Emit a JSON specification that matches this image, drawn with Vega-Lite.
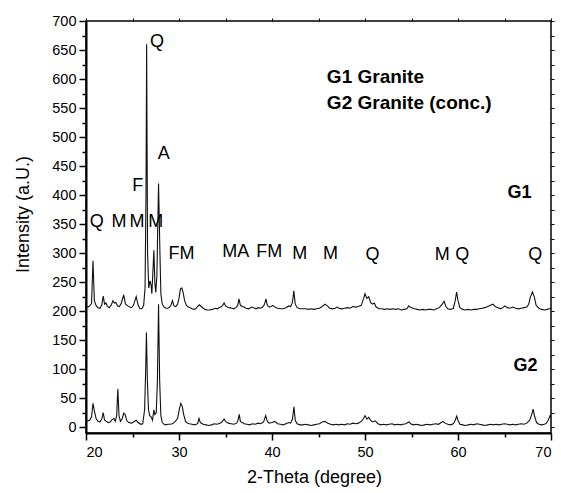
{
  "$schema": "https://vega.github.io/schema/vega-lite/v6.json",
  "autosize": "none",
  "padding": {"left": 86, "top": 21, "right": 10, "bottom": 60},
  "width": 465,
  "height": 412,
  "background": "white",
  "config": {
    "view": {"stroke": "black", "strokeWidth": 1.5},
    "font": "Liberation Sans",
    "axis": {"grid": false, "domainColor": "black", "tickColor": "black", "labelColor": "black", "titleColor": "black", "labelFont": "Liberation Sans", "titleFont": "Liberation Sans", "titleFontWeight": "normal"}
  },
  "datasets": {
    "xrd": [
      {"s":"G1","x":20.0,"y":208},{"s":"G1","x":20.2,"y":207},{"s":"G1","x":20.4,"y":209},{"s":"G1","x":20.6,"y":213},{"s":"G1","x":20.75,"y":287},{"s":"G1","x":20.9,"y":218},{"s":"G1","x":21.1,"y":209},{"s":"G1","x":21.3,"y":206},{"s":"G1","x":21.5,"y":205},{"s":"G1","x":21.7,"y":211},{"s":"G1","x":21.85,"y":226},{"s":"G1","x":22.0,"y":212},{"s":"G1","x":22.15,"y":214},{"s":"G1","x":22.3,"y":208},{"s":"G1","x":22.5,"y":206},{"s":"G1","x":22.7,"y":210},{"s":"G1","x":22.9,"y":218},{"s":"G1","x":23.05,"y":214},{"s":"G1","x":23.2,"y":215},{"s":"G1","x":23.4,"y":209},{"s":"G1","x":23.6,"y":208},{"s":"G1","x":23.8,"y":214},{"s":"G1","x":24.05,"y":228},{"s":"G1","x":24.25,"y":212},{"s":"G1","x":24.5,"y":209},{"s":"G1","x":24.7,"y":207},{"s":"G1","x":24.9,"y":206},{"s":"G1","x":25.1,"y":210},{"s":"G1","x":25.4,"y":225},{"s":"G1","x":25.6,"y":211},{"s":"G1","x":25.8,"y":204},{"s":"G1","x":26.0,"y":204},{"s":"G1","x":26.2,"y":210},{"s":"G1","x":26.35,"y":240},{"s":"G1","x":26.45,"y":400},{"s":"G1","x":26.52,"y":660},{"s":"G1","x":26.62,"y":300},{"s":"G1","x":26.75,"y":240},{"s":"G1","x":26.88,"y":252},{"s":"G1","x":27.0,"y":245},{"s":"G1","x":27.08,"y":230},{"s":"G1","x":27.2,"y":270},{"s":"G1","x":27.3,"y":305},{"s":"G1","x":27.4,"y":250},{"s":"G1","x":27.5,"y":232},{"s":"G1","x":27.62,"y":260},{"s":"G1","x":27.8,"y":420},{"s":"G1","x":27.95,"y":300},{"s":"G1","x":28.05,"y":230},{"s":"G1","x":28.2,"y":212},{"s":"G1","x":28.4,"y":207},{"s":"G1","x":28.6,"y":205},{"s":"G1","x":28.8,"y":205},{"s":"G1","x":29.0,"y":207},{"s":"G1","x":29.15,"y":211},{"s":"G1","x":29.3,"y":218},{"s":"G1","x":29.45,"y":209},{"s":"G1","x":29.65,"y":208},{"s":"G1","x":29.85,"y":212},{"s":"G1","x":30.0,"y":222},{"s":"G1","x":30.15,"y":238},{"s":"G1","x":30.3,"y":240},{"s":"G1","x":30.45,"y":232},{"s":"G1","x":30.6,"y":218},{"s":"G1","x":30.8,"y":210},{"s":"G1","x":31.0,"y":207},{"s":"G1","x":31.2,"y":206},{"s":"G1","x":31.4,"y":204},{"s":"G1","x":31.6,"y":203},{"s":"G1","x":31.8,"y":204},{"s":"G1","x":32.0,"y":208},{"s":"G1","x":32.2,"y":211},{"s":"G1","x":32.4,"y":208},{"s":"G1","x":32.6,"y":205},{"s":"G1","x":32.8,"y":203},{"s":"G1","x":33.0,"y":202},{"s":"G1","x":33.3,"y":202},{"s":"G1","x":33.6,"y":203},{"s":"G1","x":33.9,"y":205},{"s":"G1","x":34.1,"y":204},{"s":"G1","x":34.3,"y":206},{"s":"G1","x":34.5,"y":207},{"s":"G1","x":34.7,"y":210},{"s":"G1","x":34.85,"y":214},{"s":"G1","x":35.0,"y":209},{"s":"G1","x":35.2,"y":207},{"s":"G1","x":35.4,"y":206},{"s":"G1","x":35.7,"y":205},{"s":"G1","x":35.9,"y":204},{"s":"G1","x":36.1,"y":206},{"s":"G1","x":36.3,"y":209},{"s":"G1","x":36.45,"y":221},{"s":"G1","x":36.6,"y":210},{"s":"G1","x":36.8,"y":208},{"s":"G1","x":37.0,"y":207},{"s":"G1","x":37.2,"y":205},{"s":"G1","x":37.5,"y":204},{"s":"G1","x":37.8,"y":207},{"s":"G1","x":38.0,"y":206},{"s":"G1","x":38.3,"y":204},{"s":"G1","x":38.5,"y":206},{"s":"G1","x":38.8,"y":205},{"s":"G1","x":39.0,"y":207},{"s":"G1","x":39.2,"y":212},{"s":"G1","x":39.35,"y":221},{"s":"G1","x":39.5,"y":210},{"s":"G1","x":39.7,"y":207},{"s":"G1","x":39.9,"y":208},{"s":"G1","x":40.1,"y":210},{"s":"G1","x":40.3,"y":207},{"s":"G1","x":40.6,"y":205},{"s":"G1","x":40.9,"y":204},{"s":"G1","x":41.2,"y":204},{"s":"G1","x":41.5,"y":206},{"s":"G1","x":41.8,"y":209},{"s":"G1","x":42.0,"y":208},{"s":"G1","x":42.2,"y":215},{"s":"G1","x":42.35,"y":235},{"s":"G1","x":42.5,"y":212},{"s":"G1","x":42.7,"y":206},{"s":"G1","x":43.0,"y":204},{"s":"G1","x":43.3,"y":204},{"s":"G1","x":43.6,"y":204},{"s":"G1","x":43.9,"y":203},{"s":"G1","x":44.2,"y":204},{"s":"G1","x":44.5,"y":203},{"s":"G1","x":44.8,"y":204},{"s":"G1","x":45.1,"y":205},{"s":"G1","x":45.4,"y":208},{"s":"G1","x":45.7,"y":212},{"s":"G1","x":45.95,"y":209},{"s":"G1","x":46.2,"y":205},{"s":"G1","x":46.5,"y":204},{"s":"G1","x":46.8,"y":205},{"s":"G1","x":47.0,"y":207},{"s":"G1","x":47.2,"y":205},{"s":"G1","x":47.5,"y":204},{"s":"G1","x":47.8,"y":205},{"s":"G1","x":48.1,"y":206},{"s":"G1","x":48.4,"y":205},{"s":"G1","x":48.7,"y":208},{"s":"G1","x":49.0,"y":207},{"s":"G1","x":49.3,"y":208},{"s":"G1","x":49.6,"y":210},{"s":"G1","x":49.85,"y":222},{"s":"G1","x":50.0,"y":230},{"s":"G1","x":50.2,"y":222},{"s":"G1","x":50.4,"y":225},{"s":"G1","x":50.6,"y":215},{"s":"G1","x":50.8,"y":212},{"s":"G1","x":51.0,"y":214},{"s":"G1","x":51.2,"y":207},{"s":"G1","x":51.5,"y":204},{"s":"G1","x":51.8,"y":204},{"s":"G1","x":52.1,"y":203},{"s":"G1","x":52.4,"y":204},{"s":"G1","x":52.7,"y":203},{"s":"G1","x":53.0,"y":204},{"s":"G1","x":53.3,"y":203},{"s":"G1","x":53.6,"y":204},{"s":"G1","x":53.9,"y":202},{"s":"G1","x":54.2,"y":203},{"s":"G1","x":54.5,"y":204},{"s":"G1","x":54.7,"y":209},{"s":"G1","x":54.85,"y":207},{"s":"G1","x":55.0,"y":206},{"s":"G1","x":55.3,"y":204},{"s":"G1","x":55.6,"y":203},{"s":"G1","x":55.9,"y":202},{"s":"G1","x":56.2,"y":203},{"s":"G1","x":56.5,"y":202},{"s":"G1","x":56.8,"y":203},{"s":"G1","x":57.1,"y":203},{"s":"G1","x":57.4,"y":202},{"s":"G1","x":57.7,"y":204},{"s":"G1","x":58.0,"y":206},{"s":"G1","x":58.3,"y":212},{"s":"G1","x":58.5,"y":217},{"s":"G1","x":58.7,"y":208},{"s":"G1","x":58.9,"y":204},{"s":"G1","x":59.2,"y":203},{"s":"G1","x":59.5,"y":205},{"s":"G1","x":59.7,"y":218},{"s":"G1","x":59.85,"y":233},{"s":"G1","x":60.0,"y":218},{"s":"G1","x":60.2,"y":206},{"s":"G1","x":60.5,"y":203},{"s":"G1","x":60.8,"y":202},{"s":"G1","x":61.1,"y":203},{"s":"G1","x":61.4,"y":202},{"s":"G1","x":61.7,"y":203},{"s":"G1","x":62.0,"y":203},{"s":"G1","x":62.3,"y":204},{"s":"G1","x":62.6,"y":205},{"s":"G1","x":62.9,"y":206},{"s":"G1","x":63.2,"y":208},{"s":"G1","x":63.5,"y":210},{"s":"G1","x":63.75,"y":212},{"s":"G1","x":64.0,"y":208},{"s":"G1","x":64.3,"y":206},{"s":"G1","x":64.6,"y":204},{"s":"G1","x":64.8,"y":206},{"s":"G1","x":65.05,"y":209},{"s":"G1","x":65.3,"y":206},{"s":"G1","x":65.6,"y":205},{"s":"G1","x":65.9,"y":207},{"s":"G1","x":66.2,"y":205},{"s":"G1","x":66.5,"y":204},{"s":"G1","x":66.8,"y":205},{"s":"G1","x":67.1,"y":206},{"s":"G1","x":67.4,"y":207},{"s":"G1","x":67.6,"y":212},{"s":"G1","x":67.8,"y":225},{"s":"G1","x":68.0,"y":233},{"s":"G1","x":68.2,"y":225},{"s":"G1","x":68.4,"y":210},{"s":"G1","x":68.7,"y":205},{"s":"G1","x":69.0,"y":203},{"s":"G1","x":69.3,"y":202},{"s":"G1","x":69.6,"y":203},{"s":"G1","x":69.8,"y":204},{"s":"G1","x":70.0,"y":205},
      {"s":"G2","x":20.0,"y":12},{"s":"G2","x":20.2,"y":11},{"s":"G2","x":20.4,"y":12},{"s":"G2","x":20.6,"y":18},{"s":"G2","x":20.75,"y":41},{"s":"G2","x":20.9,"y":28},{"s":"G2","x":21.1,"y":14},{"s":"G2","x":21.3,"y":10},{"s":"G2","x":21.5,"y":9},{"s":"G2","x":21.7,"y":14},{"s":"G2","x":21.85,"y":25},{"s":"G2","x":22.0,"y":12},{"s":"G2","x":22.2,"y":10},{"s":"G2","x":22.4,"y":8},{"s":"G2","x":22.6,"y":9},{"s":"G2","x":22.8,"y":13},{"s":"G2","x":23.0,"y":15},{"s":"G2","x":23.15,"y":10},{"s":"G2","x":23.3,"y":20},{"s":"G2","x":23.42,"y":66},{"s":"G2","x":23.55,"y":20},{"s":"G2","x":23.7,"y":10},{"s":"G2","x":23.9,"y":15},{"s":"G2","x":24.05,"y":24},{"s":"G2","x":24.2,"y":22},{"s":"G2","x":24.4,"y":11},{"s":"G2","x":24.6,"y":8},{"s":"G2","x":24.9,"y":7},{"s":"G2","x":25.1,"y":9},{"s":"G2","x":25.4,"y":12},{"s":"G2","x":25.6,"y":8},{"s":"G2","x":25.9,"y":5},{"s":"G2","x":26.1,"y":6},{"s":"G2","x":26.3,"y":30},{"s":"G2","x":26.42,"y":100},{"s":"G2","x":26.5,"y":163},{"s":"G2","x":26.6,"y":80},{"s":"G2","x":26.72,"y":30},{"s":"G2","x":26.85,"y":20},{"s":"G2","x":27.0,"y":18},{"s":"G2","x":27.15,"y":12},{"s":"G2","x":27.3,"y":30},{"s":"G2","x":27.4,"y":22},{"s":"G2","x":27.55,"y":25},{"s":"G2","x":27.68,"y":80},{"s":"G2","x":27.8,"y":212},{"s":"G2","x":27.92,"y":80},{"s":"G2","x":28.05,"y":20},{"s":"G2","x":28.2,"y":8},{"s":"G2","x":28.4,"y":5},{"s":"G2","x":28.6,"y":4},{"s":"G2","x":28.8,"y":5},{"s":"G2","x":29.0,"y":5},{"s":"G2","x":29.3,"y":6},{"s":"G2","x":29.6,"y":10},{"s":"G2","x":29.85,"y":15},{"s":"G2","x":30.05,"y":32},{"s":"G2","x":30.2,"y":41},{"s":"G2","x":30.35,"y":36},{"s":"G2","x":30.5,"y":22},{"s":"G2","x":30.7,"y":10},{"s":"G2","x":30.9,"y":7},{"s":"G2","x":31.1,"y":6},{"s":"G2","x":31.4,"y":5},{"s":"G2","x":31.7,"y":4},{"s":"G2","x":32.0,"y":6},{"s":"G2","x":32.15,"y":15},{"s":"G2","x":32.3,"y":8},{"s":"G2","x":32.6,"y":5},{"s":"G2","x":32.9,"y":4},{"s":"G2","x":33.2,"y":3},{"s":"G2","x":33.5,"y":4},{"s":"G2","x":33.8,"y":6},{"s":"G2","x":34.1,"y":5},{"s":"G2","x":34.4,"y":7},{"s":"G2","x":34.6,"y":9},{"s":"G2","x":34.85,"y":14},{"s":"G2","x":35.0,"y":10},{"s":"G2","x":35.3,"y":7},{"s":"G2","x":35.6,"y":6},{"s":"G2","x":35.9,"y":5},{"s":"G2","x":36.2,"y":7},{"s":"G2","x":36.35,"y":12},{"s":"G2","x":36.48,"y":22},{"s":"G2","x":36.6,"y":10},{"s":"G2","x":36.8,"y":8},{"s":"G2","x":37.0,"y":6},{"s":"G2","x":37.3,"y":5},{"s":"G2","x":37.6,"y":4},{"s":"G2","x":37.9,"y":6},{"s":"G2","x":38.2,"y":5},{"s":"G2","x":38.5,"y":7},{"s":"G2","x":38.8,"y":6},{"s":"G2","x":39.1,"y":9},{"s":"G2","x":39.32,"y":20},{"s":"G2","x":39.5,"y":10},{"s":"G2","x":39.7,"y":7},{"s":"G2","x":40.0,"y":8},{"s":"G2","x":40.3,"y":10},{"s":"G2","x":40.6,"y":6},{"s":"G2","x":40.9,"y":5},{"s":"G2","x":41.2,"y":4},{"s":"G2","x":41.5,"y":6},{"s":"G2","x":41.8,"y":8},{"s":"G2","x":42.0,"y":7},{"s":"G2","x":42.2,"y":14},{"s":"G2","x":42.36,"y":35},{"s":"G2","x":42.5,"y":12},{"s":"G2","x":42.7,"y":6},{"s":"G2","x":43.0,"y":4},{"s":"G2","x":43.3,"y":4},{"s":"G2","x":43.6,"y":5},{"s":"G2","x":43.9,"y":4},{"s":"G2","x":44.2,"y":3},{"s":"G2","x":44.5,"y":4},{"s":"G2","x":44.8,"y":5},{"s":"G2","x":45.1,"y":6},{"s":"G2","x":45.4,"y":9},{"s":"G2","x":45.7,"y":10},{"s":"G2","x":46.0,"y":7},{"s":"G2","x":46.3,"y":5},{"s":"G2","x":46.6,"y":4},{"s":"G2","x":46.9,"y":5},{"s":"G2","x":47.2,"y":4},{"s":"G2","x":47.5,"y":5},{"s":"G2","x":47.8,"y":4},{"s":"G2","x":48.1,"y":6},{"s":"G2","x":48.4,"y":5},{"s":"G2","x":48.7,"y":7},{"s":"G2","x":49.0,"y":6},{"s":"G2","x":49.3,"y":7},{"s":"G2","x":49.6,"y":10},{"s":"G2","x":49.85,"y":15},{"s":"G2","x":50.0,"y":20},{"s":"G2","x":50.2,"y":14},{"s":"G2","x":50.4,"y":17},{"s":"G2","x":50.6,"y":12},{"s":"G2","x":50.8,"y":9},{"s":"G2","x":51.1,"y":11},{"s":"G2","x":51.4,"y":6},{"s":"G2","x":51.7,"y":4},{"s":"G2","x":52.0,"y":5},{"s":"G2","x":52.3,"y":4},{"s":"G2","x":52.6,"y":5},{"s":"G2","x":52.9,"y":6},{"s":"G2","x":53.2,"y":4},{"s":"G2","x":53.5,"y":5},{"s":"G2","x":53.8,"y":4},{"s":"G2","x":54.1,"y":5},{"s":"G2","x":54.4,"y":6},{"s":"G2","x":54.6,"y":8},{"s":"G2","x":54.76,"y":9},{"s":"G2","x":54.9,"y":6},{"s":"G2","x":55.2,"y":4},{"s":"G2","x":55.5,"y":5},{"s":"G2","x":55.8,"y":4},{"s":"G2","x":56.1,"y":3},{"s":"G2","x":56.4,"y":4},{"s":"G2","x":56.7,"y":5},{"s":"G2","x":57.0,"y":4},{"s":"G2","x":57.3,"y":5},{"s":"G2","x":57.6,"y":6},{"s":"G2","x":57.9,"y":5},{"s":"G2","x":58.2,"y":8},{"s":"G2","x":58.4,"y":10},{"s":"G2","x":58.6,"y":7},{"s":"G2","x":58.9,"y":5},{"s":"G2","x":59.2,"y":4},{"s":"G2","x":59.5,"y":6},{"s":"G2","x":59.7,"y":12},{"s":"G2","x":59.86,"y":19},{"s":"G2","x":60.0,"y":12},{"s":"G2","x":60.2,"y":5},{"s":"G2","x":60.5,"y":4},{"s":"G2","x":60.8,"y":3},{"s":"G2","x":61.1,"y":4},{"s":"G2","x":61.4,"y":5},{"s":"G2","x":61.7,"y":4},{"s":"G2","x":62.0,"y":6},{"s":"G2","x":62.3,"y":5},{"s":"G2","x":62.6,"y":4},{"s":"G2","x":62.9,"y":3},{"s":"G2","x":63.2,"y":4},{"s":"G2","x":63.5,"y":5},{"s":"G2","x":63.8,"y":4},{"s":"G2","x":64.1,"y":5},{"s":"G2","x":64.4,"y":4},{"s":"G2","x":64.7,"y":5},{"s":"G2","x":65.0,"y":6},{"s":"G2","x":65.3,"y":5},{"s":"G2","x":65.6,"y":4},{"s":"G2","x":65.9,"y":5},{"s":"G2","x":66.2,"y":4},{"s":"G2","x":66.5,"y":5},{"s":"G2","x":66.8,"y":6},{"s":"G2","x":67.1,"y":5},{"s":"G2","x":67.4,"y":7},{"s":"G2","x":67.7,"y":12},{"s":"G2","x":67.9,"y":20},{"s":"G2","x":68.08,"y":31},{"s":"G2","x":68.25,"y":18},{"s":"G2","x":68.45,"y":8},{"s":"G2","x":68.7,"y":5},{"s":"G2","x":69.0,"y":4},{"s":"G2","x":69.3,"y":5},{"s":"G2","x":69.5,"y":7},{"s":"G2","x":69.7,"y":12},{"s":"G2","x":69.9,"y":20},{"s":"G2","x":70.0,"y":18}
    ],
    "peaks": [
      {"x":27.63,"y":663,"t":"Q"},{"x":28.37,"y":470,"t":"A"},{"x":25.56,"y":415,"t":"F"},
      {"x":21.15,"y":353,"t":"Q"},{"x":23.55,"y":353,"t":"M"},{"x":25.48,"y":353,"t":"M"},{"x":27.5,"y":353,"t":"M"},
      {"x":30.27,"y":298,"t":"FM"},{"x":36.1,"y":302,"t":"MA"},{"x":39.7,"y":302,"t":"FM"},{"x":42.98,"y":298,"t":"M"},
      {"x":46.3,"y":299,"t":"M"},{"x":50.8,"y":297,"t":"Q"},{"x":58.3,"y":297,"t":"M"},{"x":60.46,"y":297,"t":"Q"},{"x":68.3,"y":297,"t":"Q"}
    ],
    "names": [
      {"x":66.6,"y":403,"t":"G1"},{"x":67.26,"y":105,"t":"G2"}
    ],
    "legend": [
      {"x":45.9,"y":604,"t":"G1 Granite"},{"x":45.9,"y":559,"t":"G2 Granite (conc.)"}
    ]
  },
  "resolve": {"axis": {"x": "independent", "y": "independent"}},
  "layer": [
    {
      "data": {"name": "xrd"},
      "mark": {"type": "line", "color": "#111111", "strokeWidth": 1.1, "interpolate": "linear"},
      "encoding": {
        "x": {"field": "x", "type": "quantitative", "scale": {"domain": [20, 70], "nice": false, "zero": false},
          "axis": {"orient": "bottom", "title": "2-Theta (degree)", "values": [20, 30, 40, 50, 60, 70], "tickSize": 7, "tickWidth": 1.5, "domainWidth": 2, "labelFontSize": 14.5, "labelPadding": 5, "titleFontSize": 18, "titleX": 228, "titleY": 49, "titleBaseline": "alphabetic", "titleAnchor": "middle", "titleAlign": "center"}},
        "y": {"field": "y", "type": "quantitative", "scale": {"domain": [-10, 700], "nice": false, "zero": false},
          "axis": {"orient": "left", "title": "Intensity (a.U.)", "values": [0, 50, 100, 150, 200, 250, 300, 350, 400, 450, 500, 550, 600, 650, 700], "tickSize": 7, "tickWidth": 1.5, "domainWidth": 2, "labelFontSize": 14.5, "labelPadding": 3, "titleFontSize": 18, "titleX": -58, "titleY": 193, "titleBaseline": "alphabetic", "titleAlign": "center", "titleAngle": -90}},
        "detail": {"field": "s", "type": "nominal"}
      }
    },
    {
      "data": {"name": "peaks"},
      "mark": {"type": "text", "fontSize": 18, "font": "Liberation Sans", "color": "black", "align": "center", "baseline": "middle"},
      "encoding": {
        "x": {"field": "x", "type": "quantitative", "scale": {"domain": [20, 70], "nice": false, "zero": false},
          "axis": {"orient": "bottom", "title": null, "labels": false, "domain": false, "values": [25, 35, 45, 55, 65], "tickSize": 4, "tickWidth": 1.5}},
        "y": {"field": "y", "type": "quantitative", "scale": {"domain": [-10, 700], "nice": false, "zero": false},
          "axis": {"orient": "left", "title": null, "labels": false, "domain": false, "values": [25, 75, 125, 175, 225, 275, 325, 375, 425, 475, 525, 575, 625, 675], "tickSize": 4, "tickWidth": 1.5}},
        "text": {"field": "t"}
      }
    },
    {
      "data": {"name": "names"},
      "mark": {"type": "text", "fontSize": 18, "fontWeight": "bold", "font": "Liberation Sans", "color": "black", "align": "center", "baseline": "middle"},
      "encoding": {
        "x": {"field": "x", "type": "quantitative", "scale": {"domain": [20, 70], "nice": false, "zero": false},
          "axis": {"orient": "top", "title": null, "labels": false, "domain": false, "values": [20, 25, 30, 35, 40, 45, 50, 55, 60, 65, 70], "tickSize": 3, "tickWidth": 1}},
        "y": {"field": "y", "type": "quantitative", "scale": {"domain": [-10, 700], "nice": false, "zero": false},
          "axis": {"orient": "right", "title": null, "labels": false, "domain": false, "values": [0, 25, 50, 75, 100, 125, 150, 175, 200, 225, 250, 275, 300, 325, 350, 375, 400, 425, 450, 475, 500, 525, 550, 575, 600, 625, 650, 675, 700], "tickSize": 3, "tickWidth": 1}},
        "text": {"field": "t"}
      }
    },
    {
      "data": {"name": "legend"},
      "mark": {"type": "text", "fontSize": 19, "fontWeight": "bold", "font": "Liberation Sans", "color": "black", "align": "left", "baseline": "middle"},
      "encoding": {
        "x": {"field": "x", "type": "quantitative", "scale": {"domain": [20, 70], "nice": false, "zero": false}, "axis": null},
        "y": {"field": "y", "type": "quantitative", "scale": {"domain": [-10, 700], "nice": false, "zero": false}, "axis": null},
        "text": {"field": "t"}
      }
    }
  ]
}
